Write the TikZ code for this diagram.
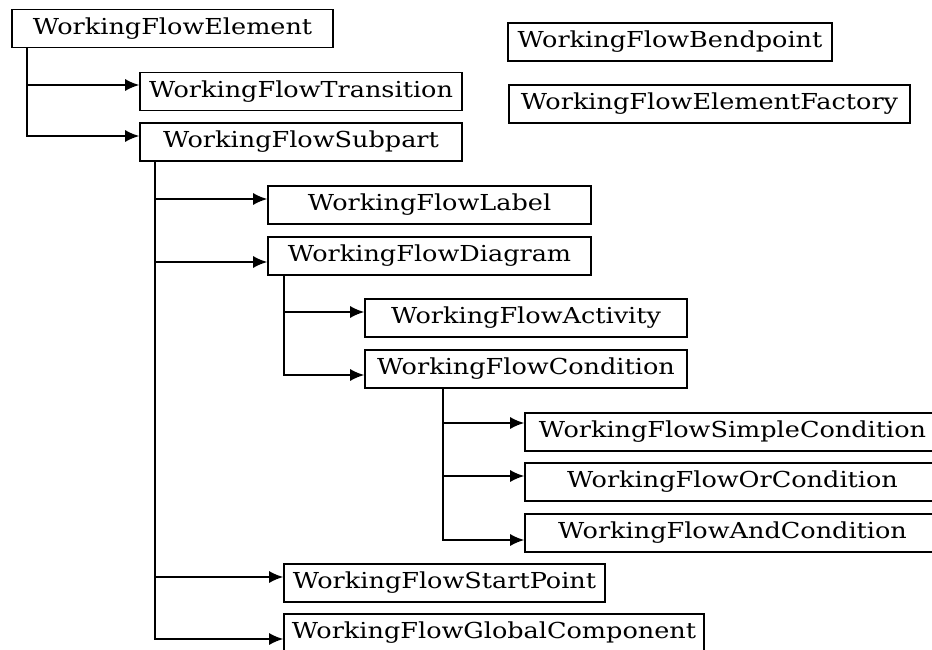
\documentclass[tikz,border=0pt]{standalone}
\usepackage{fontspec}
\newfontfamily\boxfont[FakeStretch=1.16]{DejaVu Serif}
\usetikzlibrary{arrows.meta}
\tikzset{
	cls/.style={draw, line width=1.6pt, minimum height=38pt, inner xsep=4pt, inner ysep=0pt,
		font=\boxfont\fontsize{22}{26}\selectfont},
	branch/.style={-{Latex[length=14pt,width=12pt]}, line width=1.6pt}
}
\begin{document}
\begin{tikzpicture}[x=1pt,y=-1pt,line join=miter]
	\clip (0,0) rectangle (932,649);
	\fill[white] (0,0) rectangle (932,649);
	%Các lớp
	\node[cls,minimum width=321pt] (elem) at (172.5,28.5) {WorkingFlowElement};
	\node[cls,minimum width=322pt] (trans) at (301,91.5) {WorkingFlowTransition};
	\node[cls,minimum width=322pt] (sub) at (301,142) {WorkingFlowSubpart};
	\node[cls,minimum width=324pt] (bend) at (670,42) {WorkingFlowBendpoint};
	\node[cls,minimum width=401pt] (fact) at (709.5,104) {WorkingFlowElementFactory};
	\node[cls,minimum width=323pt] (label) at (429.5,205) {WorkingFlowLabel};
	\node[cls,minimum width=323pt] (diag) at (429.5,256) {WorkingFlowDiagram};
	\node[cls,minimum width=322pt] (act) at (526,318) {WorkingFlowActivity};
	\node[cls,minimum width=322pt] (cond) at (526,369) {WorkingFlowCondition};
	\node[cls,minimum width=415pt] (simple) at (732.5,432) {WorkingFlowSimpleCondition};
	\node[cls,minimum width=415pt] (orc) at (732.5,482) {WorkingFlowOrCondition};
	\node[cls,minimum width=415pt] (andc) at (732.5,533) {WorkingFlowAndCondition};
	\node[cls,minimum width=321pt] (start) at (444.5,583) {WorkingFlowStartPoint};
	\node[cls,minimum width=420pt] (glob) at (494,633) {WorkingFlowGlobalComponent};
	%Các nhánh kế thừa
	\draw[branch] ([xshift=16pt]elem.south west) |- ([yshift=6.5pt]trans.west);
	\draw[branch] ([xshift=16pt]elem.south west) |- ([yshift=6pt]sub.west);
	\draw[branch] ([xshift=16pt]sub.south west) |- ([yshift=6pt]label.west);
	\draw[branch] ([xshift=16pt]sub.south west) |- ([yshift=-6pt]diag.west);
	\draw[branch] ([xshift=16pt]sub.south west) |- ([yshift=6pt]start.west);
	\draw[branch] ([xshift=16pt]sub.south west) |- ([yshift=-6pt]glob.west);
	\draw[branch] ([xshift=17pt]diag.south west) |- ([yshift=6pt]act.west);
	\draw[branch] ([xshift=17pt]diag.south west) |- ([yshift=-6pt]cond.west);
	\draw[branch] ([xshift=79pt]cond.south west) |- ([yshift=9pt]simple.west);
	\draw[branch] ([xshift=79pt]cond.south west) |- ([yshift=6pt]orc.west);
	\draw[branch] ([xshift=79pt]cond.south west) |- ([yshift=-7pt]andc.west);
\end{tikzpicture}
\end{document}
